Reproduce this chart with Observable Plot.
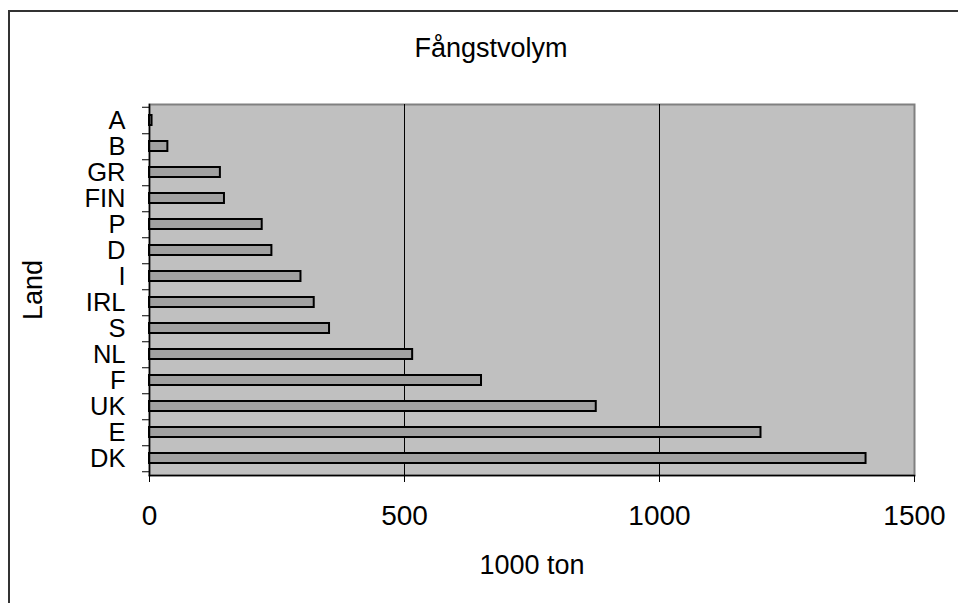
<!DOCTYPE html>
<html>
<head>
<meta charset="utf-8">
<script src="https://cdn.jsdelivr.net/npm/d3@7"></script>
<script src="https://cdn.jsdelivr.net/npm/@observablehq/plot@0.6"></script>
<style>
  html, body { margin: 0; padding: 0; background: #fff; overflow: hidden; }
  #wrap { position: relative; width: 958px; height: 603px; overflow: hidden; }
  #border { position: absolute; left: 8px; top: 10px; width: 980px; height: 620px; border: 2px solid #333; box-sizing: border-box; pointer-events: none; }
</style>
</head>
<body>
<div id="wrap"><div id="border"></div></div>
<script>
const countries = ["A", "B", "GR", "FIN", "P", "D", "I", "IRL", "S", "NL", "F", "UK", "E", "DK"];
const values = [5, 36, 139, 147, 221, 240, 297, 323, 353, 516, 651, 876, 1199, 1405];
const xTicks = [0, 500, 1000, 1500];
const title = "Fångstvolym";
const xLabel = "1000 ton";
const yLabel = "Land";

const data = countries.map((c, i) => ({country: c, value: values[i]}));

const W = 958, H = 603, mL = 149, mR = 44, mT = 104, mB = 128;
const step = (H - mT - mB) / countries.length;
const tickLenUnits = 7 * 1500 / (W - mL - mR);

const chart = Plot.plot({
  width: W,
  height: H,
  marginLeft: mL,
  marginRight: mR,
  marginTop: mT,
  marginBottom: mB,
  style: {fontFamily: "'Liberation Sans', Arial, sans-serif", background: "transparent", overflow: "visible"},
  x: {domain: [0, 1500]},
  y: {domain: countries, paddingInner: 0.6, paddingOuter: 0.3},
  marks: [
    Plot.frame({fill: "#c0c0c0", stroke: "#808080", strokeWidth: 2}),
    Plot.ruleX([500, 1000], {stroke: "#000", strokeWidth: 1}),
    Plot.barX(data, {x: "value", y: "country", fill: "#a0a0a0", stroke: "#000", strokeWidth: 2}),
    Plot.frame({anchor: "left", stroke: "#000", strokeWidth: 1.5}),
    Plot.frame({anchor: "bottom", stroke: "#000", strokeWidth: 1.5}),
    Plot.ruleY(countries, {y: d => d, x1: -tickLenUnits, x2: 0, dy: step / 2, stroke: "#000", strokeWidth: 1}),
    Plot.ruleY([countries[0]], {y: d => d, x1: -tickLenUnits, x2: 0, dy: -step / 2, stroke: "#000", strokeWidth: 1}),
    Plot.axisY({tickSize: 0, tickPadding: 24, fontSize: 25.5, label: null, fill: "#000"}),
    Plot.axisX({ticks: xTicks, tickSize: 7, tickPadding: 23, fontSize: 28, label: null, tickFormat: d => String(d), stroke: "#000", fill: "#000"}),
    Plot.text([xLabel], {text: d => d, frameAnchor: "bottom", dy: 90, fontSize: 27, lineAnchor: "middle", textAnchor: "middle", fill: "#000"}),
    Plot.text([yLabel], {text: d => d, frameAnchor: "left", dx: -116, dy: 0, rotate: -90, fontSize: 27, lineAnchor: "middle", textAnchor: "middle", fill: "#000"}),
    Plot.text([title], {text: d => d, frameAnchor: "top", dx: -41, dy: -56, fontSize: 27, lineAnchor: "middle", textAnchor: "middle", fill: "#000"})
  ]
});
chart.style.position = "absolute";
chart.style.left = "0";
chart.style.top = "0";
document.getElementById("wrap").prepend(chart);
</script>
</body>
</html>
